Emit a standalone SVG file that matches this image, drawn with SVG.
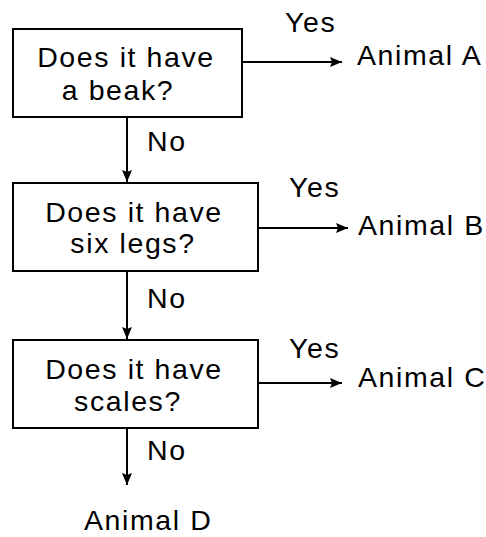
<svg xmlns="http://www.w3.org/2000/svg" width="486" height="537" viewBox="0 0 486 537">
<defs>
<marker id="arr" viewBox="0 0 12 10" refX="12" refY="5" markerWidth="12" markerHeight="10" markerUnits="userSpaceOnUse" orient="auto">
<path d="M0,0 L12,5 L0,10 L2,5 z" fill="#000"/>
</marker>
<style>
.box{fill:#fff;stroke:#000;stroke-width:2}
.t{font-family:"Liberation Sans",Arial,sans-serif;font-size:28.5px;letter-spacing:1.6px;fill:#000}
.c{text-anchor:middle}
.ln{stroke:#000;stroke-width:2;fill:none;marker-end:url(#arr)}
</style>
</defs>
<rect width="486" height="537" fill="#fff"/>
<g id="q1">
<rect class="box" x="13" y="29" width="229" height="88"/>
<text class="t c" x="126" y="67">Does it have</text>
<text class="t c" x="118" y="100">a beak?</text>
</g>
<g id="q2">
<rect class="box" x="13" y="183" width="245" height="88"/>
<text class="t c" x="134" y="222">Does it have</text>
<text class="t c" x="133" y="253">six legs?</text>
</g>
<g id="q3">
<rect class="box" x="13" y="340" width="245" height="88"/>
<text class="t c" x="134" y="379">Does it have</text>
<text class="t c" x="128" y="411">scales?</text>
</g>
<g id="a">
<text class="t" x="357" y="65">Animal A</text>
</g>
<g id="b">
<text class="t" x="358" y="235">Animal B</text>
</g>
<g id="c">
<text class="t" x="358" y="387">Animal C</text>
</g>
<g id="d">
<text class="t" x="84" y="530">Animal D</text>
</g>
<g id="connectors">
<line class="ln" x1="242" y1="62" x2="342" y2="62"/>
<line class="ln" x1="258" y1="228" x2="348" y2="228"/>
<line class="ln" x1="258" y1="383" x2="342" y2="383"/>
<line class="ln" x1="127" y1="117" x2="127" y2="182"/>
<line class="ln" x1="127" y1="271" x2="127" y2="339"/>
<line class="ln" x1="127" y1="428" x2="127" y2="485"/>
<text class="t" x="285" y="32">Yes</text>
<text class="t" x="289" y="197">Yes</text>
<text class="t" x="289" y="358">Yes</text>
<text class="t" x="147" y="151">No</text>
<text class="t" x="147" y="308">No</text>
<text class="t" x="147" y="460">No</text>
</g>
</svg>
